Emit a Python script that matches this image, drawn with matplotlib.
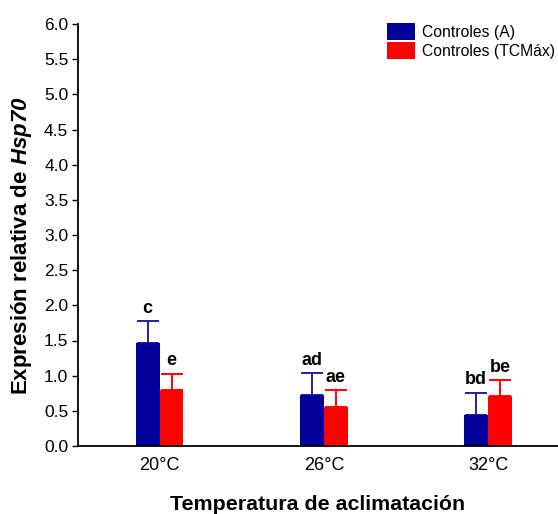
import numpy as np
import matplotlib.pyplot as plt

plt.rcParams['font.family'] = ['Liberation Sans', 'DejaVu Sans']
plt.rcParams['mathtext.fontset'] = 'custom'
plt.rcParams['mathtext.bfit'] = 'Liberation Sans:bold:italic'
plt.rcParams['mathtext.it'] = 'Liberation Sans:italic'
plt.rcParams['mathtext.bf'] = 'Liberation Sans:bold'
plt.rcParams['mathtext.rm'] = 'Liberation Sans'

# datos
temps = ['20°C', '26°C', '32°C']
ctrl_a = [1.46, 0.73, 0.44]
ctrl_a_err = [0.32, 0.31, 0.32]
ctrl_tcm = [0.80, 0.55, 0.71]
ctrl_tcm_err = [0.23, 0.24, 0.23]
letras_a = ['c', 'ad', 'bd']
letras_tcm = ['e', 'ae', 'be']

azul = '#000099'
rojo = '#ff0000'

fig = plt.figure(figsize=(5.58, 5.14), dpi=100)
ax = fig.add_axes([78/558, 68/514, 480/558, 422/514])

x = np.arange(len(temps))
w = 0.146
cero = np.zeros(len(temps))

ax.bar(x - w/2, ctrl_a, w, color=azul, label='Controles (A)', zorder=2)
ax.bar(x + w/2, ctrl_tcm, w, color=rojo, label='Controles (TCMáx)', zorder=2)
ax.errorbar(x - w/2, ctrl_a, yerr=[cero, ctrl_a_err], fmt='none', ecolor='#2222a0',
            elinewidth=1.4, capsize=8, capthick=1.4, zorder=1)
ax.errorbar(x + w/2, ctrl_tcm, yerr=[cero, ctrl_tcm_err], fmt='none', ecolor=rojo,
            elinewidth=1.4, capsize=8, capthick=1.4, zorder=1)

for i in range(len(temps)):
    ax.annotate(letras_a[i], (x[i] - w/2, ctrl_a[i] + ctrl_a_err[i]),
                xytext=(0, 3), textcoords='offset points', ha='center', va='bottom',
                fontsize=13, fontweight='bold')
    ax.annotate(letras_tcm[i], (x[i] + w/2, ctrl_tcm[i] + ctrl_tcm_err[i]),
                xytext=(0, 3), textcoords='offset points', ha='center', va='bottom',
                fontsize=13, fontweight='bold')

ax.set_xlim(-0.496, 2.425)
ax.set_ylim(0, 6.0)
ax.set_yticks(np.arange(0, 6.01, 0.5))
ax.set_yticklabels(['%.1f' % v for v in np.arange(0, 6.01, 0.5)])
ax.set_xticks(x)
ax.set_xticklabels(temps)
ax.tick_params(axis='y', direction='out', length=4, width=1, labelsize=12.5, pad=3)
ax.tick_params(axis='x', direction='in', length=3, width=1, labelsize=13, pad=8)

ax.spines['top'].set_visible(False)
ax.spines['right'].set_visible(False)
ax.spines['left'].set_linewidth(1.3)
ax.spines['bottom'].set_linewidth(1.3)

fig.text(22/558, 1 - 246/514, r'Expresión relativa de $\mathbfit{Hsp70}$',
         rotation=90, ha='center', va='center', fontsize=16, fontweight='bold')
fig.text(318/558, 1 - 504/514, 'Temperatura de aclimatación',
         ha='center', va='center', fontsize=15.4, fontweight='bold')

ax.legend(loc='upper left', bbox_to_anchor=(387/558, 1 - 23/514),
          bbox_transform=fig.transFigure, frameon=False, fontsize=11.3,
          handlelength=1.8, handleheight=1.25, handletextpad=0.4,
          labelspacing=0.15, borderpad=0, borderaxespad=0)

fig.savefig('out.png', dpi=100)
